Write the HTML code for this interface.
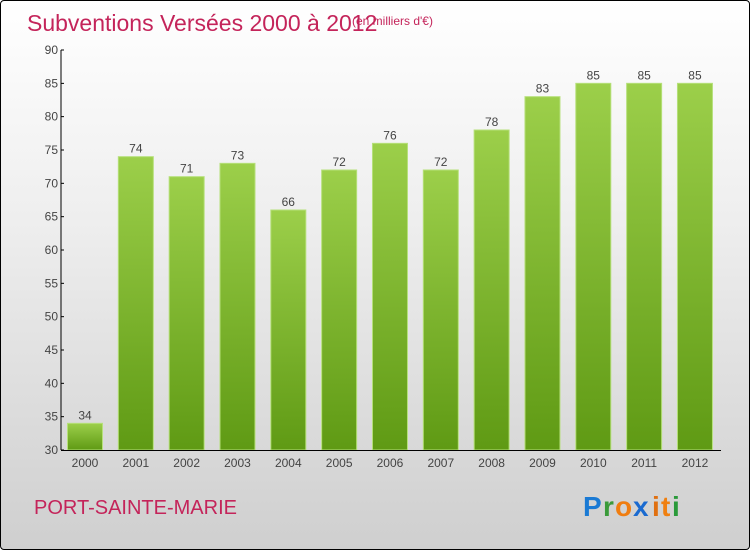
<!DOCTYPE html>
<html><head><meta charset="utf-8"><style>
body{margin:0;}
#wrap{position:relative;width:748px;height:548px;border:1px solid #000;border-radius:4px;background:linear-gradient(#ffffff 0%,#eeeeee 40%,#cfcfcf 100%);overflow:hidden;font-family:"Liberation Sans",sans-serif;}
</style></head><body>
<div id="wrap">
<svg width="748" height="548">
<defs><linearGradient id="g" x1="0" y1="0" x2="0" y2="1"><stop offset="0" stop-color="#9ccf4a"/><stop offset="1" stop-color="#5f9a14"/></linearGradient></defs>
<text x="26" y="30" font-size="23" fill="#c4245a">Subventions Versées 2000 à 2012</text>
<text x="351" y="24" font-size="12" fill="#c4245a">(en milliers d'€)</text>
<g id="yax"></g><g id="bars"></g><g id="xax"></g>
<text x="33" y="513" font-size="20" fill="#c4245a">PORT-SAINTE-MARIE</text>
<g font-size="28" font-weight="bold" font-family="Liberation Sans,sans-serif">
<text x="582" y="515" fill="#1a7ad4">P</text><text x="602" y="515" fill="#3a9a3a">r</text><text x="614" y="515" fill="#f07d10">o</text><text x="632" y="515" fill="#1a6ad0">x</text><text x="651" y="515" fill="#e07010">i</text><text x="660" y="515" fill="#f08010">t</text><text x="671" y="515" fill="#2a9a3a">i</text>
</g>
</svg>
</div>
<script>
const years=["2000","2001","2002","2003","2004","2005","2006","2007","2008","2009","2010","2011","2012"];
const values=[34,74,71,73,66,72,76,72,78,83,85,85,85];
const yTicks=[30,35,40,45,50,55,60,65,70,75,80,85,90];
const NS="http://www.w3.org/2000/svg";
const y0=449,y1=49,vmin=30,vmax=90;
function yScale(v){return y0-(v-vmin)/(vmax-vmin)*(y0-y1);}
function xScale(i){return 84+i*50.83;}
function mk(t,a,p){const e=document.createElementNS(NS,t);for(const k in a)e.setAttribute(k,a[k]);p.appendChild(e);return e;}
const yax=document.getElementById('yax'),bars=document.getElementById('bars'),xax=document.getElementById('xax');
const yl=mk('line',{x1:60,y1:y1,x2:60,y2:y0,stroke:'#000'},yax);


yTicks.forEach(v=>{
 mk('line',{x1:60,x2:63,y1:yScale(v),y2:yScale(v),stroke:'#000'},yax);
 const t=mk('text',{x:57,y:yScale(v)+4,'text-anchor':'end','font-size':12,fill:'#444'},yax);t.textContent=v;
 
 
});
values.forEach((v,i)=>{
 const cx=xScale(i);
 const r=mk('rect',{x:cx-17.5,y:yScale(v),width:35,height:y0-yScale(v),fill:'url(#g)',stroke:'#b6e07a','stroke-width':1},bars);
 
 
 const t=mk('text',{x:cx,y:yScale(v)-4,'text-anchor':'middle','font-size':12,fill:'#444'},bars);t.textContent=v;
 
 
 const xl=mk('text',{x:cx,y:466,'text-anchor':'middle','font-size':12,fill:'#444'},xax);xl.textContent=years[i];
 
 
});
const xl=mk('line',{x1:60,y1:y0+0.5,x2:720,y2:y0+0.5,stroke:'#000'},xax);


</script>
</body></html>
